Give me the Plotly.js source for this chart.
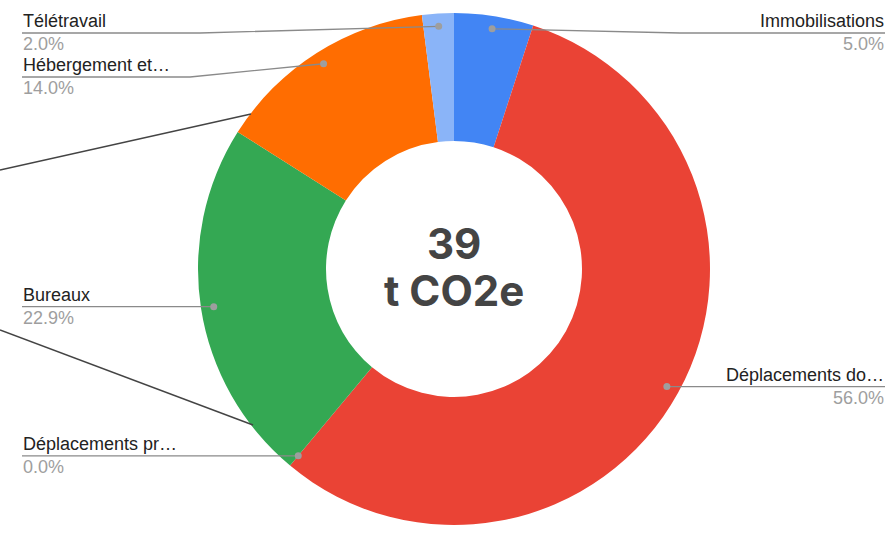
<!DOCTYPE html>
<html>
<head>
<meta charset="utf-8">
<script src="https://cdn.plot.ly/plotly-3.0.1.min.js"></script>
<style>html,body{margin:0;padding:0;background:#fff;}#chart{width:894px;height:535px;}</style>
</head>
<body>
<div id="chart"></div>
<script>
// ---- data ----
const categories = ["Immobilisations", "Déplacements do…", "Déplacements pr…", "Bureaux", "Hébergement et…", "Télétravail"];
const values = [5.0, 56.0, 0.0, 22.9, 14.0, 2.0];   // share in %
const centerValue = "39";
const centerUnit = "t CO2e";

// ---- styles / positions ----
const colors = ["#4285F4", "#EA4335", "#FBBC04", "#34A853", "#FF6D01", "#8AB4F8"];
const W = 894, H = 535;
const CX = 454, CY = 269, R = 256;
// label side, y of leader line (px), x of elbow (px, null => straight)
const labelSide = ["right", "right", "left", "left", "left", "left"];
const labelLineY = [33, null, null, null, 77, 33];
const labelElbowX = [680, null, null, null, 190, 200];
const LEFT_X = 22, RIGHT_X = 885;

const px = x => x / W;
const py = y => 1 - y / H;

const total = values.reduce((a, b) => a + b, 0);
const shapes = [];
const annotations = [];
let cum = 0;
values.forEach((v, i) => {
  const mid = (cum + v / 2) / total * 2 * Math.PI; // clockwise from 12 o'clock
  cum += v;
  const dx = CX + 0.95 * R * Math.sin(mid);
  const dy = CY - 0.95 * R * Math.cos(mid);
  const ly = labelLineY[i] === null ? dy : labelLineY[i];
  const ex = labelElbowX[i] === null ? dx : labelElbowX[i];
  const endX = labelSide[i] === "left" ? LEFT_X : RIGHT_X;
  shapes.push({
    type: "path", xref: "paper", yref: "paper",
    path: `M ${px(dx)} ${py(dy)} L ${px(ex)} ${py(ly)} L ${px(endX)} ${py(ly)}`,
    line: {color: "#8a8a8a", width: 1.3}
  });
  shapes.push({
    type: "circle", xref: "paper", yref: "paper",
    x0: px(dx - 3.5), x1: px(dx + 3.5), y0: py(dy + 3.5), y1: py(dy - 3.5),
    fillcolor: "#9e9e9e", line: {width: 0}
  });
  const anchor = labelSide[i] === "left" ? "left" : "right";
  annotations.push({
    xref: "paper", yref: "paper", x: px(endX), y: py(ly - 12),
    xanchor: anchor, yanchor: "middle", showarrow: false, borderpad: 0,
    text: categories[i], font: {family: "Liberation Sans, Arial, sans-serif", size: 18, color: "#222222"}
  });
  annotations.push({
    xref: "paper", yref: "paper", x: px(endX), y: py(ly + 11),
    xanchor: anchor, yanchor: "middle", showarrow: false, borderpad: 0,
    text: v.toFixed(1) + "%", font: {family: "Liberation Sans, Arial, sans-serif", size: 18, color: "#9e9e9e"}
  });
});

// decorative dark connector lines seen at the left
shapes.push({type: "line", xref: "paper", yref: "paper", x0: px(0), y0: py(170), x1: px(251), y1: py(114), line: {color: "#444444", width: 1.5}});
shapes.push({type: "line", xref: "paper", yref: "paper", x0: px(0), y0: py(330), x1: px(253), y1: py(425), line: {color: "#444444", width: 1.5}});

annotations.push({xref: "paper", yref: "paper", x: px(CX), y: py(243), showarrow: false, xanchor: "center", yanchor: "middle",
  text: centerValue, font: {family: "Inter, Open Sans, sans-serif", size: 42, weight: 700, color: "#444444"}});
annotations.push({xref: "paper", yref: "paper", x: px(CX), y: py(290), showarrow: false, xanchor: "center", yanchor: "middle",
  text: centerUnit, font: {family: "Inter, Open Sans, sans-serif", size: 42, weight: 700, color: "#444444"}});

const trace = {
  type: "pie", labels: categories, values: values, hole: 0.5,
  sort: false, direction: "clockwise", rotation: 0,
  marker: {colors: colors, line: {width: 0}},
  textinfo: "none", hoverinfo: "label+percent",
  domain: {x: [(CX - R) / W, (CX + R) / W], y: [1 - (CY + R) / H, 1 - (CY - R) / H]},
  showlegend: false
};

Plotly.newPlot("chart", [trace], {
  width: W, height: H, margin: {l: 0, r: 0, t: 0, b: 0},
  paper_bgcolor: "#ffffff", showlegend: false,
  shapes: shapes, annotations: annotations
}, {staticPlot: true});
</script>
</body>
</html>
